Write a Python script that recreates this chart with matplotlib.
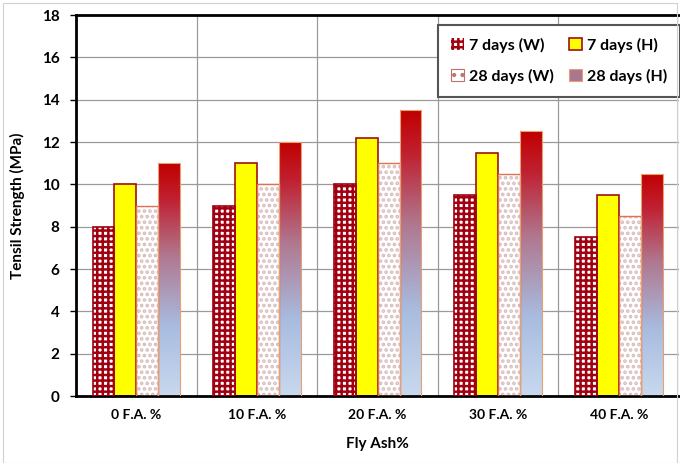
import matplotlib
matplotlib.use("Agg")
import matplotlib.pyplot as plt
import numpy as np
from matplotlib.colors import LinearSegmentedColormap
from matplotlib.patches import Rectangle, Patch

plt.rcParams['font.family'] = ['Lato', 'DejaVu Sans']
plt.rcParams['font.weight'] = 'bold'
plt.rcParams['hatch.linewidth'] = 1.8

categories = ["0 F.A. %", "10 F.A. %", "20 F.A. %", "30 F.A. %", "40 F.A. %"]
series_names = ["7 days (W)", "7 days (H)", "28 days (W)", "28 days (H)"]
w7 = [8.0, 9.0, 10.0, 9.5, 7.5]
h7 = [10.0, 11.0, 12.2, 11.5, 9.5]
w28 = [9.0, 10.0, 11.0, 10.5, 8.5]
h28 = [11.0, 12.0, 13.5, 12.5, 10.5]
yticks = [0, 2, 4, 6, 8, 10, 12, 14, 16, 18]

fig = plt.figure(figsize=(6.8, 4.63), dpi=100)
ax = fig.add_axes([0.112, 0.1447, 0.8865, 0.8229])

x = np.arange(len(categories))
bw = 0.182
offs = np.array([-1.5, -0.5, 0.5, 1.5]) * bw

# grid
for yv in yticks[1:]:
    ax.axhline(yv, color='#9a9a9a', lw=0.9, zorder=0)
for xv in np.arange(0.5, len(categories), 1.0):
    ax.axvline(xv, color='#9a9a9a', lw=0.9, zorder=0)

dark = '#a00010'
# 7 days W: red checker on white
ax.bar(x + offs[0], w7, bw, color='white', edgecolor=dark, hatch='+++', lw=0, zorder=2)
ax.bar(x + offs[0], w7, bw, fill=False, edgecolor=dark, lw=1.2, zorder=3)
# 7 days H: yellow
ax.bar(x + offs[1], h7, bw, color='#ffff00', edgecolor='#a01010', lw=1.2, zorder=2)
# 28 days W: white with sparse faint dots
ax.bar(x + offs[2], w28, bw, color='white', edgecolor='#d8bcbc', hatch='...', lw=0, zorder=2)
ax.bar(x + offs[2], w28, bw, fill=False, edgecolor='#e07050', lw=1.0, zorder=3)
# 28 days H: gradient
cmap = LinearSegmentedColormap.from_list('g', [(0, '#c8d8ee'), (0.3, '#a8bce0'), (0.6, '#b07890'), (0.85, '#c02030'), (1.0, '#c00000')])
grad = np.linspace(0, 1, 256).reshape(-1, 1)
bars = ax.bar(x + offs[3], h28, bw, color='none', edgecolor='#e8a070', lw=0.8, zorder=3)
for b in bars:
    x0, y0 = b.get_x(), b.get_y()
    im = ax.imshow(grad, cmap=cmap, origin='lower', aspect='auto',
                   extent=[x0, x0 + b.get_width(), y0, y0 + b.get_height()], zorder=2)
    im.set_clip_path(b)
ax.set_xlim(-0.5, len(categories) - 0.5)
ax.set_ylim(0, 18)

ax.set_xticks(x)
ax.set_xticklabels(categories, fontsize=10, fontweight='bold')
ax.set_yticks(yticks)
ax.set_yticklabels([str(v) for v in yticks], fontsize=11, fontweight='bold')
ax.tick_params(axis='x', length=0, pad=9)
ax.tick_params(axis='y', length=4, width=1, pad=8)

ax.set_xlabel("Fly Ash%", fontsize=11, fontweight='bold', labelpad=12)
ax.set_ylabel("Tensil Strength (MPa)", fontsize=11, fontweight='bold', labelpad=12)

for s in ['left', 'top', 'bottom']:
    ax.spines[s].set_linewidth(2)
    ax.spines[s].set_color('black')
ax.spines['right'].set_visible(False)

# legend (column-major fill -> reorder so rows read 7W,7H / 28W,28H)
h_w7 = Patch(facecolor='white', edgecolor=dark, hatch='+++', lw=0)
h_h7 = Patch(facecolor='#ffff00', edgecolor='#a01010', lw=1.2)
h_w28 = Patch(facecolor='white', edgecolor='#c07070', hatch='..', lw=0.8)
h_h28 = Patch(facecolor='#a87890', edgecolor='#e8a070', lw=0.8)
handles = [h_w7, h_w28, h_h7, h_h28]
labels = [series_names[0], series_names[2], series_names[1], series_names[3]]
leg = ax.legend(handles, labels, ncol=2, loc='upper right',
                bbox_to_anchor=(1.015, 0.995), frameon=True,
                fancybox=False, edgecolor='#555555', framealpha=1,
                handlelength=0.8, handleheight=0.8, handletextpad=0.3,
                columnspacing=1.0, labelspacing=1.0, borderpad=0.8,
                prop={'weight': 'bold', 'size': 11.5})
leg.get_frame().set_linewidth(1.5)
leg.set_zorder(5)

fig.patches.append(Rectangle((0.005, 0.0), 0.99, 0.993, transform=fig.transFigure,
                             fill=False, edgecolor='#d0d0d0', lw=0.8))

fig.savefig("out.png", dpi=100)
